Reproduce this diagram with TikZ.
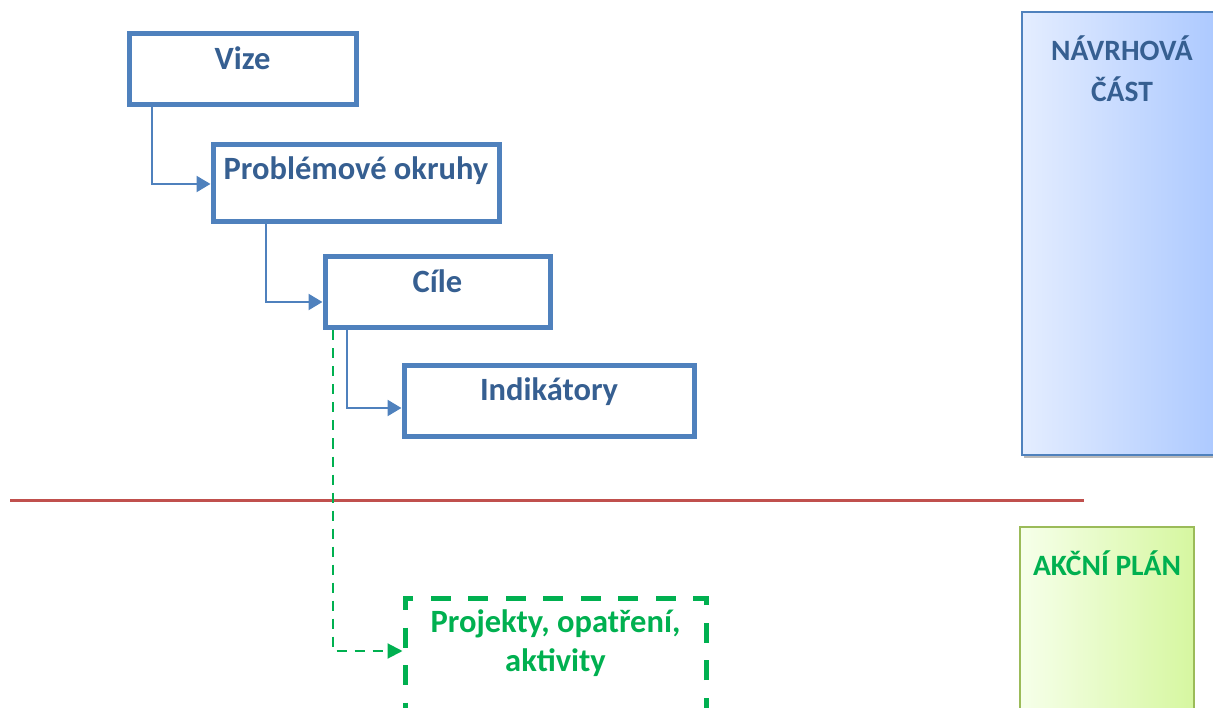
\documentclass[tikz,border=0pt]{standalone}
\usepackage{fontspec}
\setmainfont{Carlito}
\usetikzlibrary{calc}
\usetikzlibrary{positioning}
\usetikzlibrary{arrows.meta}
\definecolor{boxblue}{HTML}{4F81BD}
\definecolor{textblue}{HTML}{365F91}
\definecolor{plangreen}{HTML}{00B050}
\definecolor{splitred}{HTML}{C0504D}
\definecolor{navleft}{HTML}{E4EDFF}
\definecolor{navright}{HTML}{A6C5FF}
\definecolor{akcborder}{HTML}{9BBB59}
\definecolor{akcleft}{HTML}{F6FFEA}
\definecolor{akcright}{HTML}{D6F7A0}
\tikzset{
    stagebox/.style={
        rectangle,
        draw=boxblue,
        line width=5pt,
        fill=white,
        text=textblue,
        font=\fontsize{32.5}{38}\selectfont\bfseries,
        text height=8pt, % baseline in the middle of the box
        text depth=8pt,
        inner sep=0pt
    },
    stagelink/.style={
        draw=boxblue,
        line width=2.5pt,
        -{Triangle[length=14pt,width=16pt]}
    },
    planlink/.style={
        draw=plangreen,
        line width=2pt,
        dash pattern=on 10pt off 8pt,
        -{Triangle[length=15pt,width=15pt]}
    },
    panellabel/.style={
        font=\fontsize{29.5}{35}\selectfont\bfseries,
        anchor=base,
        inner sep=0pt
    }
}

\begin{document}
\begin{tikzpicture}[x=1pt, y=-1pt]
\useasboundingbox (0,0) rectangle (1213,708);

% side panels
\fill[gray!55] (1024,15) rectangle (1240,458);
\draw[boxblue, line width=1.5pt, left color=navleft, right color=navright]
    (1022,12) rectangle (1240,455);
\node[panellabel, text=textblue] (navrh) at (1122,61) {NÁVRHOVÁ};
\node[panellabel, text=textblue] (cast) at (1122,102) {ČÁST};

\draw[akcborder, line width=1.5pt, left color=akcleft, right color=akcright]
    (1020,527) rectangle (1194,730);
\node[panellabel, text=plangreen] (akcni) at (1107,575) {AKČNÍ PLÁN};

% dividing line
\coordinate (S1) at (10,500);
\coordinate (S2) at (1084,500);
\draw[splitred, line width=3pt] (S1) -- (S2);

% boxes
\node[stagebox, minimum width=227pt, minimum height=71pt] (vize) at (242.5,69.5) {Vize};
\node[stagebox, minimum width=286pt, minimum height=77pt, text depth=16pt] (okruhy) at (356,183.5) {Problémové okruhy};
\node[stagebox, minimum width=225pt, minimum height=71pt] (cile) at (437.5,292.5) {Cíle};
\node[stagebox, minimum width=290pt, minimum height=71pt] (indik) at (549,401) {Indikátory};

\node[draw=plangreen, line width=5pt, dash pattern=on 20pt off 17.5pt, dash phase=23.5pt,
      minimum width=301pt, minimum height=170pt] (projekty) at (555.5,683) {};
\node[text=plangreen, font=\fontsize{32.5}{39}\selectfont\bfseries, align=center,
      anchor=base, inner sep=0pt] (projtext) at (555.5,671) {Projekty, opatření,\\aktivity};

% connectors
\coordinate (B1) at (152,184);
\coordinate (B2) at (266,302);
\coordinate (B3) at (347,408);
\coordinate (B4) at (333,651);
\draw[stagelink] (vize.south -| B1) |- (okruhy.west |- B1);
\draw[stagelink] (okruhy.south -| B2) |- (cile.west |- B2);
\draw[stagelink] (cile.south -| B3) |- (indik.west |- B3);
\draw[planlink] (cile.south -| B4) |- (projekty.west |- B4);

\end{tikzpicture}
\end{document}
